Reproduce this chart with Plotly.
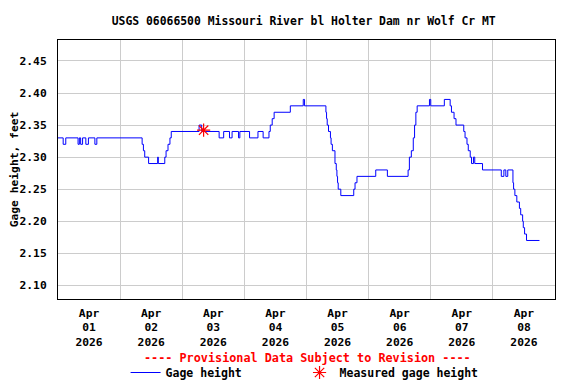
import plotly.graph_objects as go

# Gage height change points (15-min data, drawn as steps)
times = [
    "2026-04-01 00:00", "2026-04-01 02:00", "2026-04-01 03:00", "2026-04-01 07:45",
    "2026-04-01 08:15", "2026-04-01 08:45", "2026-04-01 09:30", "2026-04-01 10:45",
    "2026-04-01 11:45", "2026-04-01 14:15", "2026-04-01 15:00",
    "2026-04-02 08:30", "2026-04-02 09:00", "2026-04-02 09:30", "2026-04-02 11:00",
    "2026-04-02 14:30", "2026-04-02 14:45", "2026-04-02 17:15", "2026-04-02 17:45",
    "2026-04-02 18:30", "2026-04-02 19:15", "2026-04-02 19:45",
    "2026-04-03 06:30", "2026-04-03 07:30", "2026-04-03 14:15", "2026-04-03 16:00",
    "2026-04-03 18:15", "2026-04-03 19:15", "2026-04-03 21:45", "2026-04-03 22:15",
    "2026-04-04 02:00", "2026-04-04 05:15", "2026-04-04 07:15", "2026-04-04 09:30",
    "2026-04-04 10:00", "2026-04-04 10:45", "2026-04-04 11:30", "2026-04-04 17:45",
    "2026-04-04 22:45", "2026-04-04 23:15",
    "2026-04-05 07:30", "2026-04-05 07:45", "2026-04-05 08:00", "2026-04-05 08:30",
    "2026-04-05 09:15", "2026-04-05 09:30", "2026-04-05 10:00", "2026-04-05 11:00",
    "2026-04-05 11:30", "2026-04-05 11:45", "2026-04-05 12:00", "2026-04-05 12:15",
    "2026-04-05 13:15", "2026-04-05 18:15", "2026-04-05 18:45", "2026-04-05 19:30",
    "2026-04-06 02:45", "2026-04-06 07:15", "2026-04-06 15:15", "2026-04-06 15:45",
    "2026-04-06 16:30", "2026-04-06 17:15", "2026-04-06 17:45", "2026-04-06 18:15",
    "2026-04-06 18:45", "2026-04-06 23:30",
    "2026-04-07 00:00", "2026-04-07 05:15", "2026-04-07 07:30", "2026-04-07 08:00",
    "2026-04-07 09:00", "2026-04-07 09:45", "2026-04-07 12:45", "2026-04-07 13:15",
    "2026-04-07 14:00", "2026-04-07 14:30", "2026-04-07 15:15", "2026-04-07 15:45",
    "2026-04-07 16:30", "2026-04-07 17:00", "2026-04-07 20:00",
    "2026-04-08 03:15", "2026-04-08 04:15", "2026-04-08 05:00", "2026-04-08 05:45",
    "2026-04-08 07:45", "2026-04-08 08:00", "2026-04-08 08:30", "2026-04-08 09:15",
    "2026-04-08 10:15", "2026-04-08 10:45", "2026-04-08 11:30", "2026-04-08 11:45",
    "2026-04-08 12:15", "2026-04-08 13:00", "2026-04-08 18:00",
]
heights = [
    2.33, 2.32, 2.33, 2.32,
    2.33, 2.32, 2.33, 2.32,
    2.33, 2.32, 2.33,
    2.32, 2.31, 2.30, 2.29,
    2.30, 2.29, 2.30, 2.31,
    2.32, 2.33, 2.34,
    2.35, 2.34, 2.33, 2.34,
    2.33, 2.34, 2.33, 2.34,
    2.33, 2.34, 2.33, 2.34,
    2.35, 2.36, 2.37, 2.38,
    2.39, 2.38,
    2.37, 2.36, 2.35, 2.34,
    2.33, 2.32, 2.31, 2.29,
    2.28, 2.27, 2.26, 2.25,
    2.24, 2.25, 2.26, 2.27,
    2.28, 2.27, 2.28, 2.30,
    2.31, 2.33, 2.35, 2.37,
    2.38, 2.39,
    2.38, 2.39, 2.38, 2.37,
    2.36, 2.35, 2.34, 2.33,
    2.32, 2.31, 2.30, 2.29,
    2.30, 2.29, 2.28,
    2.27, 2.28, 2.27, 2.28,
    2.26, 2.25, 2.24, 2.23,
    2.22, 2.21, 2.20, 2.19,
    2.18, 2.17, 2.17,
]

measured_times = ["2026-04-03 08:15"]
measured_heights = [2.342]

tick_days = ["01", "02", "03", "04", "05", "06", "07", "08"]
tick_vals = [f"2026-04-{d} 12:00" for d in tick_days]
tick_text = [f"Apr<br>{d}<br>2026" for d in tick_days]
grid_days = [f"2026-04-{d:02d} 00:00" for d in range(2, 9)]
y_ticks = [2.10, 2.15, 2.20, 2.25, 2.30, 2.35, 2.40, 2.45]

FONT = "DejaVu Sans Mono"
FS = 11.3
FL = 11.5

fig = go.Figure()
fig.add_trace(go.Scatter(
    x=times, y=heights, mode="lines", line=dict(color="#0000ff", width=1, shape="hv"),
    name="Gage height", legend="legend",
))
fig.add_trace(go.Scatter(
    x=measured_times, y=measured_heights, mode="markers",
    marker=dict(symbol="asterisk-open", size=11, color="#ff0000", line=dict(color="#ff0000", width=1.2)),
    name="Measured gage height", legend="legend2",
))

leg_common = dict(orientation="h", xanchor="left", y=-0.2278, yanchor="top",
                  font=dict(family=FONT, size=FL, color="black", weight="bold"),
                  bgcolor="rgba(0,0,0,0)", itemwidth=30)

# page body has an 8px margin, so the figure is sized to fit inside the window
fig.update_layout(
    width=568, height=376,
    margin=dict(l=50, r=21, t=32, b=85, autoexpand=False),
    paper_bgcolor="white", plot_bgcolor="white",
    font=dict(family=FONT, size=FS, color="black", weight="bold"),
    title=dict(text="USGS 06066500 Missouri River bl Holter Dam nr Wolf Cr MT",
               x=0.5206, xanchor="center", y=0.9646, yanchor="middle",
               font=dict(family=FONT, size=11.4, color="black", weight="bold")),
    showlegend=True,
    legend=dict(x=0.136, **leg_common),
    legend2=dict(x=0.486, **leg_common),
    annotations=[dict(text="---- Provisional Data Subject to Revision ----",
                      xref="paper", yref="paper", x=0.5014, y=-0.228, xanchor="center", yanchor="middle",
                      showarrow=False, font=dict(family=FONT, size=11.8, color="#ff0000", weight="bold"))],
)
fig.update_xaxes(
    type="date", range=["2026-04-01 00:00", "2026-04-09 00:00"],
    tickmode="array", tickvals=tick_vals, ticktext=tick_text, ticks="",
    ticklabelstandoff=3, automargin=False,
    showgrid=False, showline=True, linecolor="black", linewidth=1, mirror=True,
    minor=dict(tickmode="array", tickvals=grid_days, showgrid=True, gridcolor="#cccccc", gridwidth=1, ticks=""),
    tickfont=dict(family=FONT, size=FS, color="black", weight="bold"),
    zeroline=False,
)
fig.update_yaxes(
    range=[2.0787, 2.4827], tickmode="array", tickvals=y_ticks,
    ticktext=[f"{v:.2f}" for v in y_ticks], ticks="",
    ticklabelstandoff=8, automargin=False,
    showgrid=True, gridcolor="#cccccc", gridwidth=1,
    showline=True, linecolor="black", linewidth=1, mirror=True, zeroline=False,
    title=dict(text="Gage height, feet", standoff=1,
               font=dict(family=FONT, size=FS, color="black", weight="bold")),
    tickfont=dict(family=FONT, size=FS, color="black", weight="bold"),
)

fig.write_html("out.html")
